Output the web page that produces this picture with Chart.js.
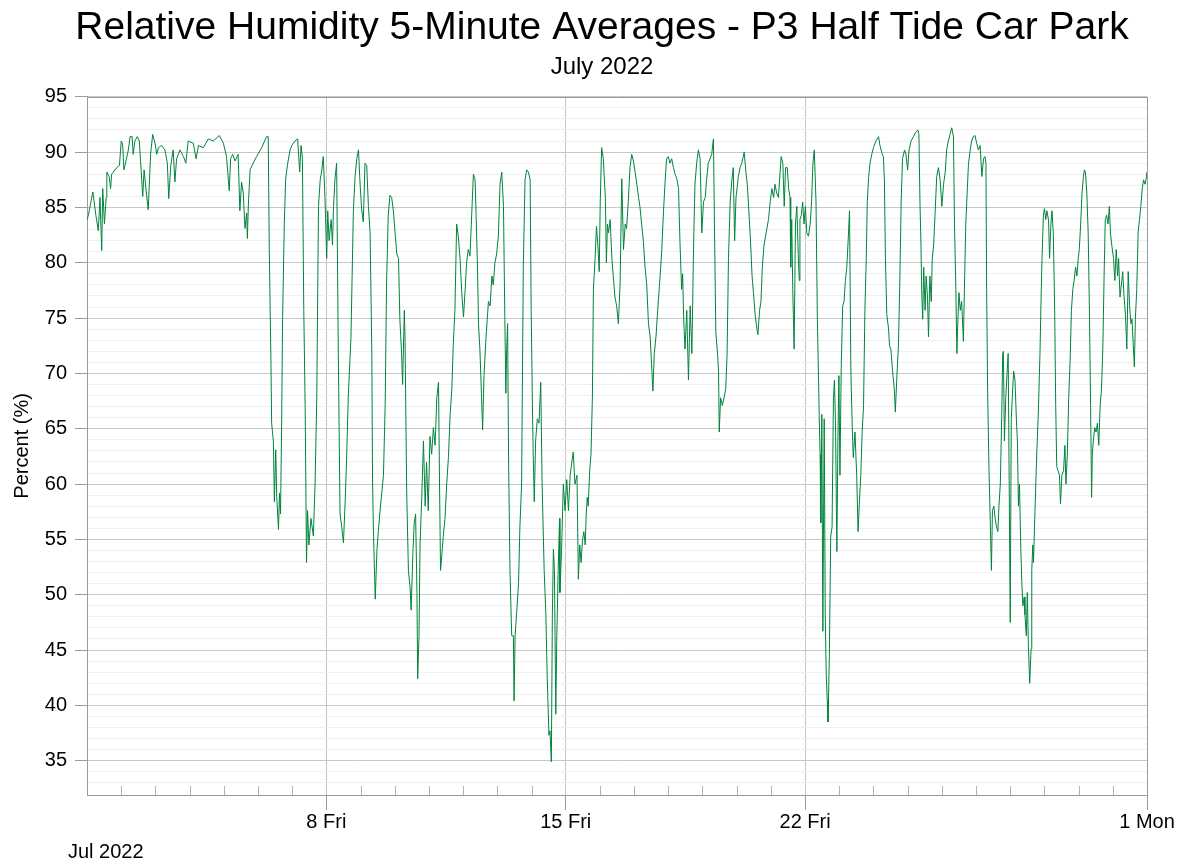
<!DOCTYPE html>
<html>
<head>
<meta charset="utf-8">
<title>Relative Humidity 5-Minute Averages - P3 Half Tide Car Park</title>
<script src="https://cdn.jsdelivr.net/npm/chart.js@4.4.1/dist/chart.umd.min.js"></script>
<style>
  html, body { margin: 0; padding: 0; background: #fff; }
  #wrap { width: 1188px; height: 865px; }
</style>
</head>
<body>
<div id="wrap"><canvas id="rhChart" width="1188" height="865"></canvas></div>
<script>
// time in days since 1 Jul 2022 00:00
const days = [
  0.00, 0.04, 0.17, 0.26, 0.33, 0.38, 0.43, 0.46, 0.51, 0.56, 0.58, 0.65, 0.69, 0.72, 0.87, 0.95, 1.00, 1.04, 1.08, 1.14,
  1.21, 1.26, 1.32, 1.35, 1.40, 1.47, 1.53, 1.60, 1.63, 1.67, 1.73, 1.79, 1.86, 1.92, 1.99, 2.04, 2.09, 2.18, 2.28, 2.35,
  2.39, 2.45, 2.52, 2.57, 2.62, 2.72, 2.82, 2.89, 2.96, 3.11, 3.19, 3.26, 3.40, 3.55, 3.69, 3.87, 3.99, 4.08, 4.16, 4.20,
  4.26, 4.33, 4.42, 4.47, 4.52, 4.57, 4.62, 4.67, 4.69, 4.72, 4.77, 4.86, 4.96, 5.11, 5.25, 5.30,
  5.33, 5.38, 5.40, 5.45, 5.48, 5.52, 5.55, 5.60, 5.63, 5.66, 5.69, 5.72, 5.77, 5.81, 5.87, 5.94, 5.99, 6.08, 6.16, 6.22,
  6.26, 6.30, 6.34, 6.38, 6.42, 6.45, 6.49, 6.55, 6.62, 6.67, 6.72, 6.77, 6.82, 6.86, 6.91, 6.96, 7.01, 7.04, 7.08, 7.14,
  7.18, 7.21, 7.25, 7.30, 7.35, 7.40, 7.45, 7.50, 7.55, 7.59, 7.64, 7.72, 7.79, 7.84, 7.89, 7.94, 7.98, 8.03, 8.08, 8.13,
  8.18, 8.23, 8.28, 8.33, 8.35, 8.38, 8.43, 8.48, 8.52, 8.57, 8.62, 8.67, 8.72, 8.76, 8.81, 8.86, 8.91, 8.96, 9.01, 9.06,
  9.11, 9.15, 9.20, 9.23, 9.28, 9.30, 9.35, 9.40, 9.45, 9.48, 9.53, 9.57, 9.61, 9.65, 9.67, 9.71, 9.74,
  9.79, 9.84, 9.89, 9.93, 9.98, 10.03, 10.08, 10.13, 10.18, 10.23, 10.28, 10.31, 10.34, 10.38, 10.42, 10.47, 10.52, 10.57, 10.62, 10.67,
  10.71, 10.76, 10.81, 10.86, 10.91, 10.96, 11.01, 11.06, 11.10, 11.15, 11.20, 11.25, 11.30, 11.35, 11.38, 11.42, 11.45, 11.49, 11.54, 11.57,
  11.61, 11.67, 11.74, 11.79, 11.84, 11.88, 11.93, 11.98, 12.03, 12.08, 12.13, 12.18, 12.22, 12.25, 12.27, 12.30, 12.33, 12.37, 12.42, 12.47,
  12.49, 12.52, 12.57, 12.62, 12.66, 12.71, 12.76, 12.81, 12.86, 12.91, 12.96, 12.99, 13.03, 13.05, 13.08, 13.12, 13.17, 13.22, 13.27, 13.31,
  13.37, 13.42, 13.46, 13.51, 13.54, 13.58, 13.61, 13.64, 13.67, 13.71, 13.74, 13.78, 13.82, 13.83, 13.88, 13.93, 13.98, 14.03, 14.08, 14.13,
  14.18, 14.22, 14.27,
  14.33, 14.37, 14.41, 14.45, 14.49, 14.53, 14.57, 14.60, 14.63, 14.66, 14.70, 14.74, 14.78, 14.81, 14.86, 14.90, 14.94, 14.98, 15.01, 15.05,
  15.10, 15.13, 15.16, 15.19, 15.22, 15.25, 15.30, 15.35, 15.39, 15.44, 15.49, 15.54, 15.59, 15.64, 15.69, 15.74, 15.78, 15.83, 15.88, 15.93,
  15.98, 16.03, 16.08, 16.13, 16.17, 16.22, 16.27, 16.32, 16.37, 16.42, 16.47, 16.52, 16.55, 16.59, 16.64, 16.69, 16.76, 16.81, 16.86, 16.91,
  16.95, 17.00, 17.05, 17.10, 17.15, 17.20, 17.25, 17.30, 17.34, 17.39, 17.42, 17.45, 17.49, 17.54, 17.59, 17.64, 17.69, 17.74, 17.78, 17.83,
  17.88, 17.93, 17.98, 18.03, 18.08, 18.12, 18.17, 18.27, 18.32, 18.35, 18.39, 18.44, 18.47, 18.49, 18.53, 18.58, 18.63, 18.68, 18.72, 18.76,
  18.81, 18.86, 18.90,
  18.94, 18.98, 19.05, 19.10, 19.15, 19.22, 19.27, 19.31, 19.37, 19.41, 19.45, 19.49, 19.54, 19.59, 19.62, 19.67, 19.71, 19.75, 19.80, 19.86,
  19.93, 19.98, 20.03, 20.08, 20.12, 20.17, 20.22, 20.27, 20.30, 20.35, 20.39, 20.43, 20.48, 20.52, 20.56, 20.58, 20.61, 20.64, 20.68, 20.72,
  20.76, 20.80, 20.83, 20.85, 20.89, 20.93, 20.97, 21.01, 21.05, 21.10, 21.15, 21.19, 21.23, 21.27, 21.32, 21.36, 21.39, 21.42, 21.44, 21.46,
  21.49, 21.52, 21.56, 21.59, 21.62, 21.65, 21.67, 21.71, 21.75, 21.79, 21.83, 21.86, 21.89, 21.93, 21.96, 21.99, 22.02, 22.06, 22.10, 22.14,
  22.18, 22.22, 22.26, 22.30, 22.34, 22.38, 22.41, 22.46, 22.51, 22.55, 22.59, 22.63, 22.67, 22.71, 22.75, 22.79, 22.82, 22.86, 22.90, 22.95,
  23.00, 23.07, 23.15, 23.19, 23.24, 23.29, 23.32, 23.35, 23.39,
  23.44, 23.47, 23.51, 23.53, 23.57, 23.61, 23.64, 23.68, 23.73, 23.77, 23.81, 23.85, 23.91, 23.95, 24.00, 24.04, 24.10, 24.17, 24.24, 24.30,
  24.33, 24.36, 24.39, 24.41, 24.44, 24.47, 24.51, 24.54, 24.58, 24.61, 24.65, 24.69, 24.72, 24.76, 24.80, 24.85, 24.90, 24.95, 25.00, 25.05,
  25.10, 25.14, 25.19, 25.24, 25.29, 25.34, 25.37, 25.41, 25.44, 25.47, 25.50, 25.54, 25.58, 25.63, 25.66, 25.70, 25.74, 25.78, 25.83, 25.87,
  25.92, 25.97, 26.02, 26.07, 26.12, 26.17, 26.22, 26.26, 26.29, 26.31, 26.34, 26.38, 26.42, 26.45, 26.48, 26.52, 26.56, 26.60, 26.64, 26.67,
  26.71, 26.75, 26.78, 26.80, 26.83, 26.87, 26.91, 26.94, 26.97, 27.00, 27.03, 27.06, 27.10, 27.14, 27.18, 27.21, 27.24, 27.27, 27.31, 27.34,
  27.37, 27.41, 27.43, 27.47, 27.50, 27.53, 27.57,
  27.61, 27.63, 27.66, 27.68, 27.71, 27.74, 27.78, 27.82, 27.87, 27.90, 27.93, 27.97, 28.00, 28.04, 28.07, 28.12, 28.15, 28.19, 28.22, 28.26,
  28.30, 28.33, 28.36, 28.40, 28.44, 28.47, 28.51, 28.56, 28.60, 28.63, 28.67, 28.71, 28.75, 28.79, 28.83, 28.87, 28.91, 28.95, 28.99, 29.02,
  29.06, 29.10, 29.14, 29.17, 29.20, 29.24, 29.28, 29.32, 29.35, 29.38, 29.40, 29.43, 29.47, 29.51, 29.55, 29.59, 29.63, 29.67, 29.71, 29.75,
  29.78, 29.82, 29.86, 29.90, 29.93, 29.97, 30.02, 30.06, 30.10, 30.14, 30.17, 30.21, 30.25, 30.29, 30.33, 30.37, 30.41, 30.45, 30.49, 30.53,
  30.56, 30.60, 30.63, 30.66, 30.70, 30.74, 30.78, 30.82, 30.86, 30.90, 30.94, 30.97, 31.00
];

// relative humidity, percent
const humidity = [
  83.9, 84.3, 86.4, 84.3, 82.9, 85.9, 81.1, 86.7, 83.5, 85.9, 88.2, 87.8, 86.7, 88.0, 88.6, 88.8, 91.0, 90.8, 88.4, 89.2,
  90.2, 91.4, 91.4, 89.8, 91.0, 91.4, 91.0, 87.5, 86.0, 88.4, 86.5, 84.8, 89.8, 91.6, 90.8, 89.8, 90.4, 90.6, 90.2, 89.0,
  85.8, 88.8, 90.2, 87.3, 89.4, 90.2, 89.6, 89.0, 91.0, 90.8, 89.4, 90.6, 90.4, 91.2, 91.0, 91.5, 90.8, 89.6, 86.5, 89.4,
  89.8, 89.2, 89.8, 84.7, 87.3, 86.3, 83.1, 84.5, 82.2, 85.3, 88.4, 89.0, 89.6, 90.4, 91.4, 91.4,
  81.2, 71.0, 65.5, 63.9, 58.4, 63.1, 58.8, 55.9, 59.2, 57.3, 64.7, 74.9, 83.5, 87.6, 89.0, 90.2, 90.6, 91.0, 91.2, 88.2,
  90.6, 89.4, 75.7, 67.1, 52.9, 57.6, 54.5, 56.9, 55.3, 60.0, 67.8, 85.1, 87.5, 88.2, 89.6, 85.9, 80.4, 84.7, 82.0, 83.9,
  81.6, 85.1, 87.5, 89.0, 71.8, 57.3, 56.1, 54.7, 58.4, 62.0, 67.8, 73.3, 84.7, 87.8, 89.4, 90.2, 87.5, 84.9, 83.7, 89.0,
  88.8, 85.1, 82.7, 71.8, 60.4, 55.3, 49.6, 54.1, 55.7, 57.6, 59.2, 60.8, 67.1, 78.0, 84.3, 86.1, 85.9, 84.7, 82.7, 80.8,
  80.4, 74.9, 71.8, 69.0, 75.7, 73.3, 59.2, 52.2, 50.6, 48.6, 53.7, 56.5, 57.3, 50.2, 42.4, 46.3, 54.5,
  58.8, 63.9, 58.0, 62.0, 57.6, 64.3, 62.7, 65.1, 63.5, 67.8, 69.2, 60.0, 52.2, 53.7, 55.3, 56.9, 60.0, 62.4, 66.3, 68.6,
  72.5, 75.7, 83.5, 82.4, 80.4, 77.3, 75.1, 77.6, 80.0, 81.2, 80.6, 84.3, 88.0, 87.5, 84.3, 79.6, 74.5, 72.2, 67.8, 64.9,
  69.8, 73.3, 76.5, 76.1, 78.8, 78.0, 80.0, 80.8, 82.4, 87.1, 88.2, 85.1, 74.9, 68.2, 71.8, 74.5, 62.0, 52.2, 46.3, 46.3,
  40.4, 46.3, 48.6, 51.0, 56.1, 60.0, 79.6, 87.5, 88.4, 88.2, 87.5, 75.7, 66.3, 62.7, 58.4, 63.9, 65.9, 65.5, 69.2, 60.0,
  52.2, 48.2, 42.4, 37.3, 37.7, 34.9, 48.2, 54.1, 52.2, 39.2, 46.3, 52.2, 56.9, 50.2, 54.1, 60.0, 57.6, 60.4, 57.6, 60.8,
  62.0, 62.9, 60.0,
  60.8, 51.4, 54.5, 52.9, 54.9, 55.7, 54.5, 57.3, 58.8, 58.0, 61.2, 62.7, 67.8, 77.6, 80.4, 83.3, 81.6, 79.2, 85.5, 90.4,
  89.4, 87.5, 85.9, 80.0, 83.5, 82.7, 83.9, 80.4, 78.8, 76.9, 76.1, 74.5, 78.0, 87.6, 81.2, 83.5, 83.1, 85.5, 88.6, 89.8,
  89.2, 88.2, 87.1, 85.9, 85.1, 83.5, 82.0, 79.6, 78.0, 74.5, 73.3, 70.2, 68.4, 71.8, 73.3, 75.7, 78.8, 81.2, 84.7, 87.5,
  89.4, 89.6, 89.0, 89.4, 88.6, 88.0, 87.6, 86.7, 82.0, 77.6, 79.0, 74.9, 72.2, 75.7, 69.4, 76.1, 71.8, 81.6, 87.1, 89.0,
  90.2, 89.4, 82.7, 85.5, 85.9, 87.5, 89.0, 89.8, 91.2, 83.5, 73.7, 71.8, 70.2, 64.7, 67.8, 67.1, 67.8, 68.6, 71.8, 80.4,
  85.5, 87.5, 88.6,
  82.0, 85.9, 87.8, 88.6, 89.0, 90.0, 88.2, 87.1, 83.9, 81.6, 78.8, 77.3, 75.3, 74.1, 73.5, 75.7, 76.5, 79.6, 81.6, 82.7,
  83.9, 85.5, 86.7, 85.9, 87.1, 86.3, 85.9, 88.2, 89.6, 89.0, 85.1, 88.6, 88.6, 86.7, 85.9, 79.6, 83.9, 77.6, 72.2, 83.5,
  85.1, 80.8, 78.4, 83.9, 84.3, 85.5, 83.5, 85.1, 82.7, 82.4, 83.5, 85.5, 89.0, 90.2, 85.5, 74.9, 70.2, 65.1, 62.7, 56.5,
  66.3, 46.7, 65.9, 48.2, 42.7, 40.4, 38.5, 44.3, 55.3, 56.1, 67.8, 69.4, 65.5, 53.9, 63.9, 69.8, 60.8, 71.0, 76.1, 76.5,
  78.4, 79.6, 82.0, 84.7, 70.2, 65.1, 62.4, 64.7, 60.8, 55.7, 58.4, 60.8, 64.7, 67.1, 75.7, 80.4, 85.5, 87.8, 89.0, 89.8,
  90.4, 91.0, 91.4, 90.6, 90.0, 89.6, 87.5, 80.4, 75.3,
  74.1, 72.5, 72.2, 71.4, 69.8, 68.6, 66.5, 69.4, 72.5, 78.0, 85.5, 89.4, 90.2, 89.8, 88.4, 90.2, 91.0, 91.4, 91.8, 92.0,
  91.6, 85.5, 81.6, 77.6, 74.9, 79.6, 75.7, 78.8, 76.9, 73.3, 78.8, 76.5, 80.4, 81.6, 84.3, 87.8, 88.6, 87.5, 85.1, 87.1,
  88.2, 90.2, 91.0, 91.6, 92.2, 91.4, 83.5, 77.6, 71.8, 74.9, 77.3, 75.7, 76.5, 72.9, 77.6, 83.5, 86.3, 89.0, 90.2, 91.0,
  91.4, 91.5, 90.8, 90.2, 90.6, 87.8, 89.4, 89.6, 89.0, 77.6, 68.2, 61.2, 56.1, 52.2, 57.6, 58.0, 56.9, 56.1, 55.7, 58.0,
  60.0, 65.9, 71.8, 72.0, 63.9, 67.8, 70.2, 71.8, 60.0, 47.5, 65.9, 67.8, 70.2, 69.4, 65.9, 63.9, 58.0, 60.0, 54.1, 51.0,
  49.0, 49.8, 48.2, 46.3, 50.2, 45.5, 42.0,
  45.1, 52.2, 54.5, 52.9, 56.1, 59.2, 63.1, 66.3, 71.8, 76.5, 80.4, 84.3, 84.9, 83.9, 84.7, 83.9, 80.4, 83.5, 84.7, 82.7,
  75.7, 67.1, 61.6, 61.2, 60.8, 58.2, 60.8, 61.2, 63.5, 60.0, 62.7, 67.8, 71.0, 75.7, 77.6, 78.4, 79.6, 78.8, 80.4, 81.2,
  83.5, 86.3, 87.8, 88.4, 88.2, 86.3, 82.7, 74.9, 67.1, 58.8, 62.7, 63.9, 65.1, 64.7, 65.5, 63.5, 67.1, 68.6, 72.5, 79.6,
  83.9, 84.3, 83.5, 85.1, 82.7, 81.6, 80.4, 78.4, 81.2, 78.8, 80.4, 76.9, 78.0, 79.2, 76.9, 75.3, 72.2, 79.2, 76.1, 74.5,
  74.9, 72.5, 70.6, 74.9, 77.6, 82.7, 83.9, 85.1, 86.7, 87.5, 87.1, 87.5, 88.2
];

// x axis: weekly labels, day 31 = 1 Aug
const weekTicks = [7, 14, 21, 31];
const weekLabels = ['8 Fri', '15 Fri', '22 Fri', '1 Mon'];
const monthLabel = 'Jul 2022';

const FONT = "'Liberation Sans', Arial, Helvetica, sans-serif";
const TRANSPARENT = 'rgba(0,0,0,0)';

function isFive(v) {
    return Math.abs(v - Math.round(v / 5) * 5) < 1e-6;
}

// daily minor ticks inside the plot, top/right frame and the month label
const frameAndTicks = {
    id: 'frameAndTicks',
    beforeDatasetsDraw(chart) {
        const { ctx, chartArea: a, scales: { x } } = chart;
        ctx.save();
        ctx.strokeStyle = '#b0b0b0';
        ctx.lineWidth = 1;
        ctx.beginPath();
        for (let d = 1; d < 31; d++) {
            if (weekTicks.includes(d)) continue;
            const px = Math.round(x.getPixelForValue(d)) + 0.5;
            ctx.moveTo(px, a.bottom);
            ctx.lineTo(px, a.bottom - 9);
        }
        ctx.stroke();
        ctx.restore();
    },
    afterDraw(chart) {
        const { ctx, chartArea: a } = chart;
        ctx.save();
        ctx.strokeStyle = '#9a9a9a';
        ctx.lineWidth = 1;
        ctx.beginPath();
        ctx.moveTo(a.left, Math.round(a.top) + 0.5);
        ctx.lineTo(Math.round(a.right) + 0.5, Math.round(a.top) + 0.5);
        ctx.lineTo(Math.round(a.right) + 0.5, a.bottom);
        ctx.stroke();
        ctx.fillStyle = '#000';
        ctx.font = '20px ' + FONT;
        ctx.textAlign = 'left';
        ctx.textBaseline = 'alphabetic';
        ctx.fillText(monthLabel, 68, 858);
        ctx.restore();
    }
};

const ctx = document.getElementById('rhChart').getContext('2d');

new Chart(ctx, {
    type: 'line',
    data: {
        datasets: [{
            label: 'Relative Humidity',
            data: days.map((d, i) => ({ x: d, y: humidity[i] })),
            borderColor: '#00843d',
            borderWidth: 1,
            pointRadius: 0,
            tension: 0,
            fill: false
        }]
    },
    options: {
        responsive: false,
        animation: false,
        // titles are centred on x=602 like the original; the x axis keeps
        // 41px free on the right so the plot still ends at x=1147
        layout: { padding: { left: 16, right: 0, top: 0, bottom: 0 } },
        plugins: {
            legend: { display: false },
            tooltip: { enabled: false },
            title: {
                display: true,
                text: 'Relative Humidity 5-Minute Averages - P3 Half Tide Car Park',
                color: '#000',
                font: { family: FONT, size: 39, weight: 'normal' },
                padding: { top: 5, bottom: 0 }
            },
            subtitle: {
                display: true,
                text: 'July 2022',
                color: '#000',
                font: { family: FONT, size: 24, weight: 'normal' },
                padding: { top: 1.6, bottom: 14.6 }
            }
        },
        scales: {
            x: {
                type: 'linear',
                min: 0,
                max: 31,
                afterFit: (scale) => {
                    scale.height = 70;
                    scale.paddingRight = 41;
                },
                ticks: {
                    stepSize: 1,
                    autoSkip: false,
                    maxRotation: 0,
                    padding: 0,
                    color: '#000',
                    font: { family: FONT, size: 20 },
                    callback: (v) => {
                        const i = weekTicks.indexOf(v);
                        return i >= 0 ? weekLabels[i] : '';
                    }
                },
                grid: {
                    color: (c) => (c.tick && weekTicks.includes(c.tick.value)) ? '#c4c4c4' : TRANSPARENT,
                    tickColor: (c) => (c.tick && weekTicks.includes(c.tick.value)) ? '#9a9a9a' : TRANSPARENT,
                    tickLength: 15,
                    lineWidth: 1
                },
                border: { color: '#9a9a9a' }
            },
            y: {
                min: 31.9,
                max: 95,
                afterFit: (scale) => { scale.width = 71; },
                title: {
                    display: true,
                    text: 'Percent (%)',
                    color: '#000',
                    font: { family: FONT, size: 20 },
                    padding: { top: -6, bottom: 0 }
                },
                ticks: {
                    stepSize: 1,
                    autoSkip: false,
                    padding: 8,
                    color: '#000',
                    font: { family: FONT, size: 20 },
                    callback: (v) => isFive(v) ? String(Math.round(v)) : ''
                },
                grid: {
                    color: (c) => (c.tick && isFive(c.tick.value)) ? '#c8c8c8' : '#efefef',
                    tickColor: (c) => (c.tick && isFive(c.tick.value)) ? '#9a9a9a' : TRANSPARENT,
                    tickLength: 12,
                    lineWidth: 1
                },
                border: { color: '#9a9a9a' }
            }
        }
    },
    plugins: [frameAndTicks]
});
</script>
</body>
</html>
